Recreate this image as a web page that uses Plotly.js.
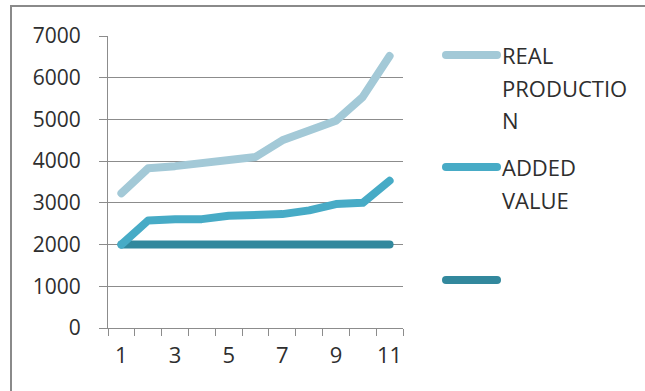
<!DOCTYPE html>
<html>
<head>
<meta charset="utf-8">
<script src="https://cdn.plot.ly/plotly-3.0.1.min.js"></script>
<style>
  html, body { margin: 0; padding: 0; background: #fff; }
  #wrap { position: relative; width: 645px; height: 391px; overflow: hidden; }
  #frame { position: absolute; left: 10px; top: 5px; width: 700px; height: 500px;
           border-left: 2px solid #8a8a8a; border-top: 2px solid #8a8a8a; }
  #chart { position: absolute; left: 0; top: 0; width: 645px; height: 391px; }
  #chart path.js-line, #chart .shapelayer path { stroke-linecap: round; stroke-linejoin: round; }
</style>
</head>
<body>
<div id="wrap"><div id="frame"></div><div id="chart"></div></div>
<script>
// ---- data ----
const categories = [1, 2, 3, 4, 5, 6, 7, 8, 9, 10, 11];
const realProduction = [3230, 3830, 3880, 3950, 4060, 4100, 4500, 4720, 4970, 5540, 6520];
const addedValue = [2000, 2580, 2610, 2610, 2690, 2720, 2730, 2820, 2970, 3000, 3530];
const thirdSeries = [2000, 2000, 2000, 2000, 2000, 2000, 2000, 2000, 2000, 2000, 2000];
const seriesNames = ["REAL PRODUCTION", "ADDED VALUE", ""];
const legendLines = [["REAL", "PRODUCTIO", "N"], ["ADDED", "VALUE"], []];
const xTickLabels = [1, 3, 5, 7, 9, 11];
const yTickVals = [0, 1000, 2000, 3000, 4000, 5000, 6000, 7000];

// ---- style ----
const colors = ["#a3c9d7", "#47abc6", "#32889d"];
const W = 645, H = 391;
const M = { l: 108, r: 242, t: 36, b: 63 };
const pw = W - M.l - M.r, ph = H - M.t - M.b;
const px2x = p => (p - M.l) / pw;
const py2y = p => (H - M.b - p) / ph;
const font = "Open Sans, Liberation Sans, sans-serif";
const txtColor = "#2e2e2e";
const grid = "#8c8c8c";

const seriesData = [realProduction, addedValue, thirdSeries];
const drawOrder = [2, 1, 0];
const traces = drawOrder.map(i => ({
  type: "scatter", mode: "lines", x: categories, y: seriesData[i],
  name: seriesNames[i], line: { color: colors[i], width: 8 }, showlegend: false,
  hoverinfo: "skip"
}));
// invisible trace to activate xaxis2 for labels
traces.push({ type: "scatter", mode: "lines", x: categories, y: thirdSeries, xaxis: "x2",
  line: { width: 0 }, showlegend: false, hoverinfo: "skip", opacity: 0 });

const boundaries = [];
for (let i = 0; i <= categories.length; i++) boundaries.push(categories[0] - 0.5 + i);

// custom legend
const legendRowY = [55, 167, 280];
const lineGap = 32.5;
const shapes = [], annotations = [];
legendRowY.forEach((yy, i) => {
  shapes.push({ type: "line", xref: "paper", yref: "paper", x0: px2x(446), x1: px2x(497),
    y0: py2y(yy), y1: py2y(yy), line: { color: colors[i], width: 8 } });
  legendLines[i].forEach((t, k) => {
    annotations.push({ xref: "paper", yref: "paper", x: px2x(500), y: py2y(yy + k * lineGap),
      xanchor: "left", yanchor: "middle", text: t, showarrow: false,
      font: { family: font, size: 22, color: txtColor } });
  });
});

const layout = {
  width: W, height: H, margin: M,
  paper_bgcolor: "rgba(0,0,0,0)", plot_bgcolor: "rgba(0,0,0,0)",
  font: { family: font, size: 20, color: txtColor },
  showlegend: false,
  xaxis: { range: [0.5, 11.5], tickmode: "array", tickvals: boundaries,
    ticktext: boundaries.map(() => ""), ticks: "outside", ticklen: 7, tickcolor: grid,
    showline: true, linecolor: grid, linewidth: 1, showgrid: false, zeroline: false, fixedrange: true },
  xaxis2: { overlaying: "x", anchor: "y", side: "bottom", range: [0.5, 11.5], tickmode: "array",
    tickvals: xTickLabels, ticktext: xTickLabels.map(String), ticks: "", showline: false,
    showgrid: false, zeroline: false, ticklabelstandoff: 12,
    tickfont: { family: font, size: 22, color: txtColor } },
  yaxis: { range: [0, 7000], tickmode: "array", tickvals: yTickVals, ticks: "outside", ticklen: 8,
    tickcolor: grid, showline: true, linecolor: grid, gridcolor: grid, gridwidth: 1,
    zeroline: false, ticklabelstandoff: 14, tickfont: { family: font, size: 21, color: txtColor } },
  shapes: shapes, annotations: annotations
};

Plotly.newPlot("chart", traces, layout, { staticPlot: true, displayModeBar: false });
</script>
</body>
</html>
